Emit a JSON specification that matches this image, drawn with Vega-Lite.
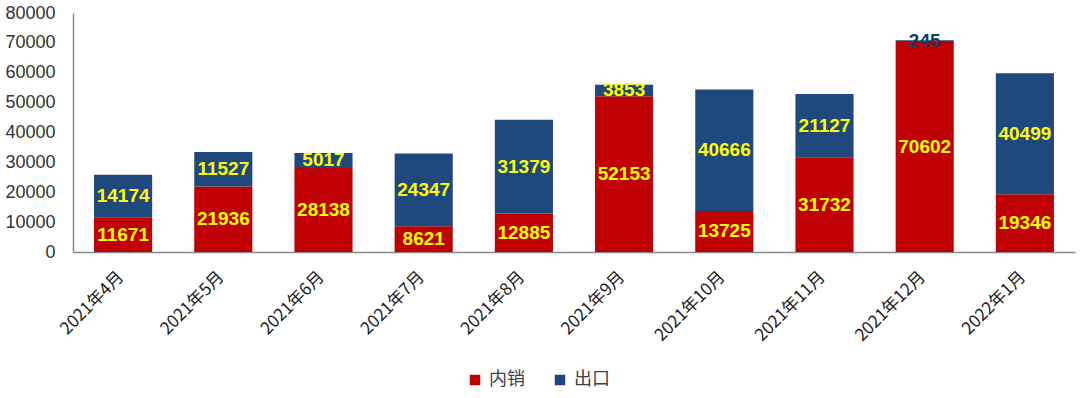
{
  "$schema": "https://vega.github.io/schema/vega-lite/v6.json",
  "width": 1002,
  "height": 239,
  "autosize": "none",
  "padding": {"left": 73, "top": 13, "right": 5, "bottom": 146},
  "background": "white",
  "config": {
    "view": {"stroke": null},
    "font": "Liberation Sans"
  },
  "data": {
    "values": [
      {"month": "2021年4月", "series": "内销", "value": 11671},
      {"month": "2021年4月", "series": "出口", "value": 14174},
      {"month": "2021年5月", "series": "内销", "value": 21936},
      {"month": "2021年5月", "series": "出口", "value": 11527},
      {"month": "2021年6月", "series": "内销", "value": 28138},
      {"month": "2021年6月", "series": "出口", "value": 5017},
      {"month": "2021年7月", "series": "内销", "value": 8621},
      {"month": "2021年7月", "series": "出口", "value": 24347},
      {"month": "2021年8月", "series": "内销", "value": 12885},
      {"month": "2021年8月", "series": "出口", "value": 31379},
      {"month": "2021年9月", "series": "内销", "value": 52153},
      {"month": "2021年9月", "series": "出口", "value": 3853},
      {"month": "2021年10月", "series": "内销", "value": 13725},
      {"month": "2021年10月", "series": "出口", "value": 40666},
      {"month": "2021年11月", "series": "内销", "value": 31732},
      {"month": "2021年11月", "series": "出口", "value": 21127},
      {"month": "2021年12月", "series": "内销", "value": 70602},
      {"month": "2021年12月", "series": "出口", "value": 245},
      {"month": "2022年1月", "series": "内销", "value": 19346},
      {"month": "2022年1月", "series": "出口", "value": 40499}
    ]
  },
  "encoding": {
    "x": {
      "field": "month",
      "type": "nominal",
      "sort": null,
      "scale": {"paddingInner": 0.42, "paddingOuter": 0.21},
      "axis": {
        "title": null,
        "labelAngle": -45,
        "labelAlign": "right",
        "labelBaseline": "middle",
        "labelFont": "Noto Sans CJK SC",
        "labelFontSize": 17,
        "labelColor": "#1a1a1a",
        "labelPadding": 22,
        "labelOffset": -2,
        "ticks": false,
        "domainColor": "#898989",
        "domainWidth": 1.5,
        "grid": false
      }
    },
    "y": {
      "field": "value",
      "type": "quantitative",
      "stack": "zero",
      "scale": {"domain": [0, 80000], "nice": false},
      "axis": {
        "title": null,
        "values": [0, 10000, 20000, 30000, 40000, 50000, 60000, 70000, 80000],
        "format": "d",
        "labelFontSize": 18,
        "labelColor": "#333333",
        "labelPadding": 18,
        "ticks": false,
        "grid": false,
        "domainColor": "#898989",
        "domainWidth": 1.5
      }
    },
    "order": {"field": "series", "sort": "ascending"}
  },
  "layer": [
    {
      "mark": {"type": "bar"},
      "encoding": {
        "color": {
          "field": "series",
          "type": "nominal",
          "scale": {"domain": ["内销", "出口"], "range": ["#C00000", "#1F497D"]},
          "legend": {
            "title": null,
            "orient": "none",
            "direction": "horizontal",
            "legendX": 393,
            "legendY": 358,
            "symbolType": "square",
            "symbolSize": 110,
            "symbolStrokeWidth": 0,
            "labelFont": "Noto Sans CJK SC",
            "labelFontSize": 18,
            "labelColor": "#404040",
            "columnPadding": 26,
            "labelOffset": 5
          }
        }
      }
    },
    {
      "mark": {"type": "text", "fontWeight": "bold", "fontSize": 19, "baseline": "middle", "align": "center"},
      "encoding": {
        "y": {"field": "value", "type": "quantitative", "stack": "zero", "bandPosition": 0.5},
        "text": {"field": "value", "type": "quantitative", "format": "d"},
        "color": {
          "condition": {"test": "datum.value < 1000", "value": "#1F3864"},
          "value": "#FFFF00"
        }
      }
    }
  ]
}
